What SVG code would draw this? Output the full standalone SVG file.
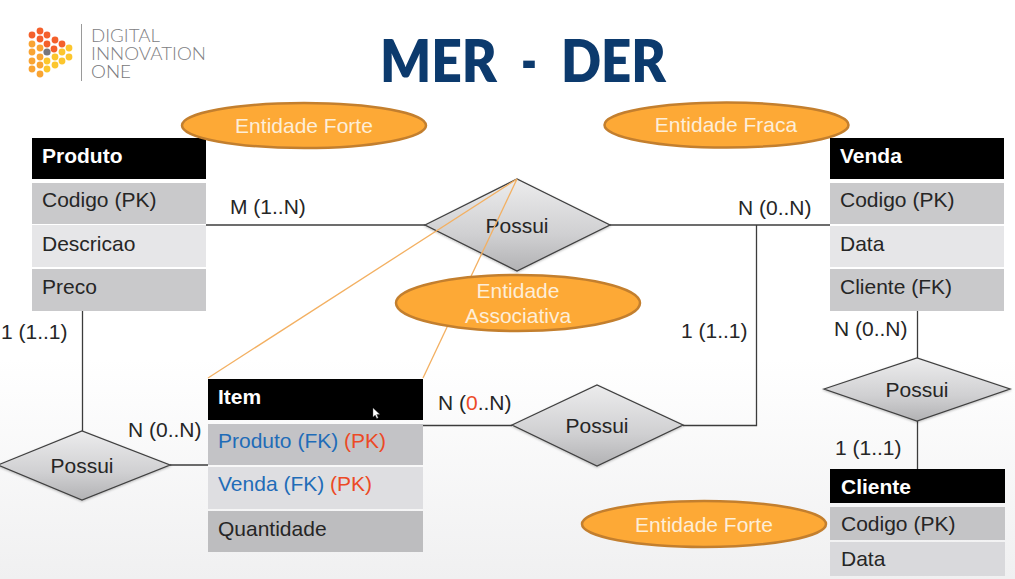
<svg xmlns="http://www.w3.org/2000/svg" width="1015" height="579" viewBox="0 0 1015 579">
<style>
text{font-family:"Liberation Sans",Arial,sans-serif;font-size:21px;fill:#262626}
.h{fill:#000}
.hl{font-weight:bold;fill:#fff}
.d{fill:#c9c9cb}
.l{fill:#e6e6e8}
.c{stroke:#3c3c3c;stroke-width:1.3;fill:none}
.o{stroke:#f3b062;stroke-width:1.3;fill:none}
.e{fill:#fda936;stroke:#c37f2e;stroke-width:2.5}
.et{fill:#fdeed8;text-anchor:middle}
.r{fill:url(#dg);stroke:#404040;stroke-width:1.3;filter:url(#sh)}
.m{text-anchor:middle}
.b{fill:#1f6cb8}
.p{fill:#ec4a26}
.logo{font-family:"Lato",sans-serif;font-size:18px;font-weight:300;fill:#808083}
</style>
<defs>
<linearGradient id="bg" x1="0" y1="0" x2="0" y2="1"><stop offset="0.62" stop-color="#fff"/><stop offset="1" stop-color="#f0f0f1"/></linearGradient>
<linearGradient id="dg" x1="0" y1="0" x2="0" y2="1"><stop offset="0" stop-color="#ececed"/><stop offset="0.6" stop-color="#d0d0d2"/><stop offset="1" stop-color="#b2b2b4"/></linearGradient>
<filter id="sh" x="-10%" y="-10%" width="120%" height="125%"><feDropShadow dx="0" dy="1" stdDeviation="1.2" flood-color="#000" flood-opacity="0.25"/></filter>
</defs>
<rect width="1015" height="579" fill="url(#bg)"/>

<g id="logo">
<g fill="#f4602b"><circle cx="40" cy="31" r="3.4"/><circle cx="32" cy="35" r="3.4"/><circle cx="47" cy="35" r="3.4"/><circle cx="40" cy="39" r="3.4"/><circle cx="55" cy="40" r="3.4"/><circle cx="47" cy="44" r="3.4"/><circle cx="62" cy="44" r="3.4"/><circle cx="54" cy="49" r="3.4"/></g>
<g fill="#f9a433"><circle cx="32" cy="44" r="3.4"/><circle cx="32" cy="52" r="3.4"/><circle cx="32" cy="61" r="3.4"/><circle cx="32" cy="69" r="3.4"/><circle cx="40" cy="48" r="3.4"/><circle cx="40" cy="57" r="3.4"/><circle cx="40" cy="65" r="3.4"/><circle cx="40" cy="74" r="3.4"/></g>
<g fill="#fcc62d"><circle cx="69" cy="48" r="3.4"/><circle cx="69" cy="57" r="3.4"/><circle cx="62" cy="52" r="3.4"/><circle cx="62" cy="61" r="3.4"/><circle cx="55" cy="57" r="3.4"/><circle cx="55" cy="65" r="3.4"/><circle cx="47" cy="61" r="3.4"/><circle cx="47" cy="69" r="3.4"/></g>
<circle cx="47" cy="52" r="3.6" fill="#77777c"/>
<line x1="81.500" y1="24" x2="81.500" y2="81" stroke="#9a9a9a" stroke-width="1"/>
<text class="logo" x="91" y="42" textLength="69" lengthAdjust="spacingAndGlyphs">DIGITAL</text>
<text class="logo" x="91" y="60" textLength="115" lengthAdjust="spacingAndGlyphs">INNOVATION</text>
<text class="logo" x="91" y="78" textLength="40" lengthAdjust="spacingAndGlyphs" style="fill:#77777a">ONE</text>
</g>

<text id="title" y="82" style="font-family:Lato,sans-serif;font-weight:800;font-size:58px;fill:#0c3a6d"><tspan x="380" textLength="117" lengthAdjust="spacingAndGlyphs">MER</tspan> <tspan x="521" textLength="16" lengthAdjust="spacingAndGlyphs">-</tspan> <tspan x="561" textLength="105" lengthAdjust="spacingAndGlyphs">DER</tspan></text>

<g id="connectors">
<path class="c" d="M206 225H425"/>
<path class="c" d="M610 225H830"/>
<path class="c" d="M756.500 225V425.500H683"/>
<path class="c" d="M423 425.500H512"/>
<path class="c" d="M170 465H208"/>
<path class="c" d="M82.500 311V431"/>
<path class="c" d="M917.500 311V358"/>
<path class="c" d="M917.500 421V469"/>
</g>

<g id="rel-produto-venda"><polygon class="r" points="425,225 517,179 610,225 517,271"/><text class="m" x="517" y="233">Possui</text></g>
<g id="rel-produto-item"><polygon class="r" points="-2,465 82,431 170,465 82,500"/><text class="m" x="82" y="473">Possui</text></g>
<g id="rel-item-venda"><polygon class="r" points="512,425 597,385 683,425 597,466"/><text class="m" x="597" y="433">Possui</text></g>
<g id="rel-venda-cliente"><polygon class="r" points="824,389 917,358 1010,389 917,421"/><text class="m" x="917" y="397">Possui</text></g>

<g id="associative-links">
<path class="o" d="M517 179L208 378"/>
<path class="o" d="M517 179L423 378"/>
</g>

<g id="note-fraca"><ellipse class="e" cx="726.500" cy="125" rx="122" ry="22.500"/><text class="et" x="726" y="132">Entidade Fraca</text></g>

<g id="entity-venda">
<rect class="h" x="830" y="138" width="174" height="41"/>
<rect class="d" x="830" y="183" width="174" height="41"/>
<rect class="l" x="830" y="226" width="174" height="41"/>
<rect class="d" x="830" y="269" width="174" height="42"/>
<text class="hl" x="840" y="163">Venda</text>
<text x="840" y="207">Codigo (PK)</text>
<text x="840" y="251">Data</text>
<text x="840" y="294">Cliente (FK)</text>
</g>

<g id="entity-produto">
<rect class="h" x="32" y="138" width="174" height="41"/>
<rect class="d" x="32" y="183" width="174" height="41"/>
<rect class="l" x="32" y="225" width="174" height="42"/>
<rect class="d" x="32" y="269" width="174" height="42"/>
<text class="hl" x="42" y="163">Produto</text>
<text x="42" y="207">Codigo (PK)</text>
<text x="42" y="251">Descricao</text>
<text x="42" y="294">Preco</text>
</g>

<g id="note-forte"><ellipse class="e" cx="304" cy="125.500" rx="122" ry="22.500"/><text class="et" x="304" y="133">Entidade Forte</text></g>

<g id="note-associativa"><ellipse class="e" cx="518" cy="303" rx="122" ry="28"/><text class="et" x="518" y="298">Entidade</text><text class="et" x="518" y="323">Associativa</text></g>

<g id="entity-item">
<rect class="h" x="208" y="379" width="215" height="41"/>
<rect x="208" y="424" width="215" height="41" fill="#c3c3c6"/>
<rect x="208" y="467" width="215" height="42" fill="#dedee1"/>
<rect x="208" y="511" width="215" height="41" fill="#bdbdbf"/>
<text class="hl" x="218" y="404">Item</text>
<text x="218" y="448"><tspan class="b">Produto (FK)</tspan> <tspan class="p">(PK)</tspan></text>
<text x="218" y="491"><tspan class="b">Venda (FK)</tspan> <tspan class="p">(PK)</tspan></text>
<text x="218" y="536">Quantidade</text>
<path d="M373 408l0 9 2.200-2 1.600 3.400 1.400-.7-1.500-3.200 3-.2z" fill="#fff" stroke="#555" stroke-width=".4"/>
</g>

<g id="entity-cliente">
<rect class="h" x="830" y="469" width="175" height="34"/>
<rect x="830" y="507" width="175" height="33" fill="#c4c4c6"/>
<rect x="830" y="542" width="175" height="34" fill="#d9d9dc"/>
<text class="hl" x="841" y="494">Cliente</text>
<text x="841" y="531">Codigo (PK)</text>
<text x="841" y="566">Data</text>
</g>

<g id="note-forte-2"><ellipse class="e" cx="704" cy="524" rx="122" ry="23"/><text class="et" x="704" y="532">Entidade Forte</text></g>

<g id="cardinalities">
<text x="230" y="214">M (1..N)</text>
<text x="738" y="215">N (0..N)</text>
<text x="1" y="339">1 (1..1)</text>
<text x="128" y="437">N (0..N)</text>
<text x="438" y="410">N (<tspan class="p">0</tspan>..N)</text>
<text x="681" y="338">1 (1..1)</text>
<text x="834" y="336">N (0..N)</text>
<text x="835" y="455">1 (1..1)</text>
</g>
</svg>
